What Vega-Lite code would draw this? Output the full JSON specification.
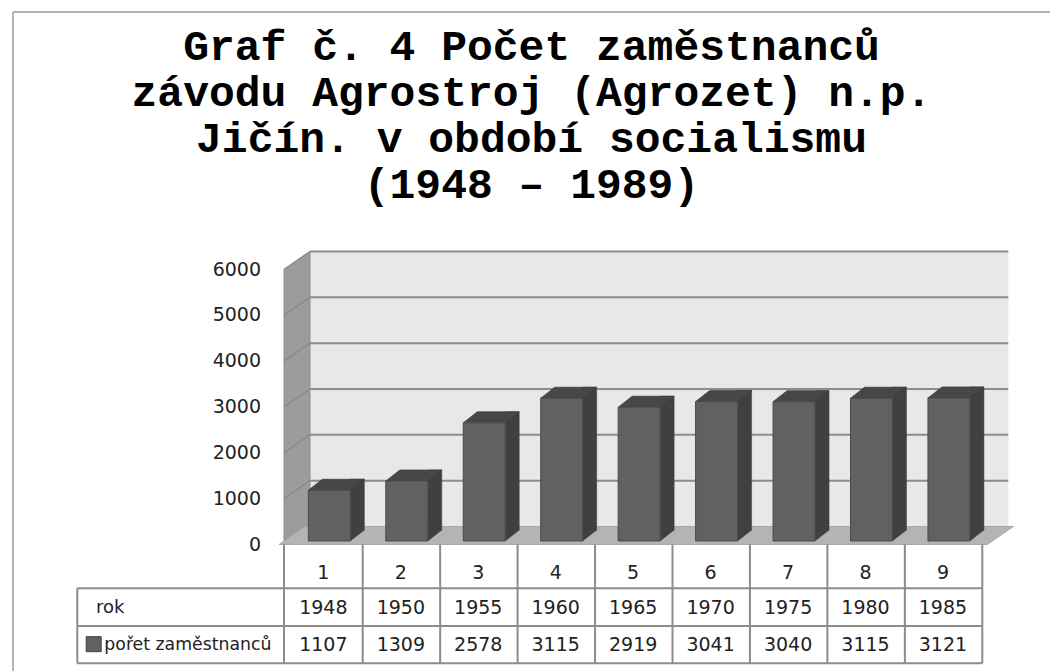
{
  "$schema": "https://vega.github.io/schema/vega-lite/v6.json",
  "width": 1047,
  "height": 659,
  "autosize": "none",
  "padding": {"left": 8, "top": 12, "right": 0, "bottom": 0},
  "background": "white",
  "config": {"view": {"stroke": null}},
  "title": {
    "text": ["Graf č. 4 Počet zaměstnanců", "závodu Agrostroj (Agrozet) n.p.", "Jičín. v období socialismu", "(1948 – 1989)"],
    "anchor": "middle",
    "frame": "group",
    "orient": "top",
    "offset": -230,
    "font": "'Courier New', 'Nimbus Mono PS', 'Nimbus Mono L', FreeMono, 'Liberation Mono', monospace",
    "fontSize": 43,
    "fontWeight": "bold",
    "color": "#000000",
    "lineHeight": 46,
    "baseline": "alphabetic"
  },
  "data": {"values": [
    {"i": 1, "rok": 1948, "count": 1107},
    {"i": 2, "rok": 1950, "count": 1309},
    {"i": 3, "rok": 1955, "count": 2578},
    {"i": 4, "rok": 1960, "count": 3115},
    {"i": 5, "rok": 1965, "count": 2919},
    {"i": 6, "rok": 1970, "count": 3041},
    {"i": 7, "rok": 1975, "count": 3040},
    {"i": 8, "rok": 1980, "count": 3115},
    {"i": 9, "rok": 1985, "count": 3121}
  ]},
  "datasets": {
    "grid": [{"v": 1000}, {"v": 2000}, {"v": 3000}, {"v": 4000}, {"v": 5000}, {"v": 6000}],
    "ticks": [{"v": 0}, {"v": 1000}, {"v": 2000}, {"v": 3000}, {"v": 4000}, {"v": 5000}, {"v": 6000}],
    "one": [{"k": 1}],
    "rowhead": [{"h": "rok"}],
    "serie": [{"h": "pořet zaměstnanců"}]
  },
  "layer": [
    {
      "data": {"name": "one"},
      "mark": {"type": "rule", "color": "#9a9a9a", "strokeWidth": 1.5, "xOffset": -310.35, "x2Offset": 107.05, "yOffset": -257.5},
      "encoding": {
        "x": {"datum": 1, "type": "quantitative", "scale": {"domain": [1, 9], "range": [310.35, 939.95], "nice": false, "zero": false}, "axis": null},
        "x2": {"datum": 9},
        "y": {"datum": 6000, "type": "quantitative", "scale": {"domain": [0, 6000], "range": [532.5, 257.5], "nice": false, "zero": false}, "axis": null}
      }
    },
    {
      "data": {"name": "one"},
      "mark": {"type": "rule", "color": "#9a9a9a", "strokeWidth": 1.5, "xOffset": -310.35, "yOffset": -257.5, "y2Offset": 126.5},
      "encoding": {
        "x": {"datum": 1, "type": "quantitative", "axis": null},
        "y": {"datum": 6000, "type": "quantitative", "axis": null},
        "y2": {"datum": 0}
      }
    },
    {
      "data": {"name": "one"},
      "mark": {"type": "rect", "color": "#e8e8e8", "xOffset": -13.35, "x2Offset": 65.35, "yOffset": -18, "y2Offset": -18},
      "encoding": {
        "x": {"datum": 1, "type": "quantitative", "axis": null},
        "x2": {"datum": 9},
        "y": {"datum": 6000, "type": "quantitative", "axis": null},
        "y2": {"datum": 0}
      }
    },
    {
      "data": {"name": "grid"},
      "mark": {"type": "rule", "color": "#8c8c8c", "strokeWidth": 2, "xOffset": -13.35, "x2Offset": 65.35, "yOffset": -18},
      "encoding": {
        "x": {"datum": 1, "type": "quantitative", "axis": null},
        "x2": {"datum": 9},
        "y": {"field": "v", "type": "quantitative", "axis": null}
      }
    },
    {
      "data": {"name": "one"},
      "mark": {"type": "point", "shape": "M-0.08874,1L-0.08874,-0.87713L0.08874,-1L0.08874,0.87713Z", "size": 85849, "filled": true, "opacity": 1, "fill": "#9c9c9c", "stroke": "#8e8e8e", "strokeWidth": 1, "xOffset": -26.35, "yOffset": -146.5},
      "encoding": {
        "x": {"datum": 1, "type": "quantitative", "axis": null},
        "y": {"datum": 0, "type": "quantitative", "axis": null}
      }
    },
    {
      "data": {"name": "grid"},
      "mark": {"type": "rule", "color": "#8a8a8a", "strokeWidth": 1.5, "xOffset": -39.35, "x2Offset": -13.35, "y2Offset": -18},
      "encoding": {
        "x": {"datum": 1, "type": "quantitative", "axis": null},
        "x2": {"datum": 1},
        "y": {"field": "v", "type": "quantitative", "axis": null},
        "y2": {"field": "v"}
      }
    },
    {
      "data": {"name": "ticks"},
      "mark": {"type": "text", "font": "DejaVu Sans", "fontSize": 19, "color": "#222222", "baseline": "middle", "align": "right", "xOffset": -62.35},
      "encoding": {
        "x": {"datum": 1, "type": "quantitative", "axis": null},
        "y": {"field": "v", "type": "quantitative", "axis": null},
        "text": {"field": "v", "type": "quantitative", "format": "d"}
      }
    },
    {
      "data": {"name": "one"},
      "mark": {"type": "point", "shape": "M-1,0.02451L0.92919,0.02451L1,-0.02451L-0.92919,-0.02451Z", "size": 539196, "filled": true, "opacity": 1, "fill": "#b4b4b4", "stroke": "#a8a8a8", "strokeWidth": 1, "xOffset": 13, "yOffset": -9},
      "encoding": {
        "x": {"datum": 5, "type": "quantitative", "axis": null},
        "y": {"datum": 0, "type": "quantitative", "axis": null}
      }
    },
    {
      "mark": {"type": "bar", "orient": "vertical", "width": 14, "color": "#404040", "stroke": "#404040", "strokeWidth": 0.5, "xOffset": 34, "yOffset": -14.5, "y2Offset": -14.5},
      "encoding": {
        "x": {"field": "i", "type": "quantitative", "axis": null},
        "y": {"field": "count", "type": "quantitative", "axis": null},
        "y2": {"datum": 0}
      }
    },
    {
      "mark": {"type": "point", "shape": "M-1,0.78571L-1,-0.78571L1,-0.78571Z", "size": 196, "filled": true, "opacity": 1, "fill": "#404040", "stroke": "#404040", "strokeWidth": 0.5, "xOffset": 34, "yOffset": -9},
      "encoding": {
        "x": {"field": "i", "type": "quantitative", "axis": null},
        "y": {"datum": 0, "type": "quantitative", "axis": null}
      }
    },
    {
      "mark": {"type": "point", "shape": "M-1,0.19643L0.5,0.19643L1,-0.19643L-0.5,-0.19643Z", "size": 3136, "filled": true, "opacity": 1, "fill": "#474747", "stroke": "#3c3c3c", "strokeWidth": 0.7, "xOffset": 13, "yOffset": -9},
      "encoding": {
        "x": {"field": "i", "type": "quantitative", "axis": null},
        "y": {"field": "count", "type": "quantitative", "axis": null}
      }
    },
    {
      "mark": {"type": "bar", "orient": "vertical", "width": 42, "color": "#616161", "stroke": "#4a4a4a", "strokeWidth": 1, "xOffset": 6, "yOffset": -3.5, "y2Offset": -3.5},
      "encoding": {
        "x": {"field": "i", "type": "quantitative", "axis": null},
        "y": {"field": "count", "type": "quantitative", "axis": null},
        "y2": {"datum": 0}
      }
    },
    {
      "mark": {"type": "rule", "color": "#8c8c8c", "strokeWidth": 2, "xOffset": 39.35, "y2Offset": 118.8},
      "encoding": {
        "x": {"field": "i", "type": "quantitative", "axis": null},
        "y": {"datum": 0, "type": "quantitative", "axis": null},
        "y2": {"datum": 0}
      }
    },
    {
      "data": {"name": "one"},
      "mark": {"type": "rule", "color": "#8c8c8c", "strokeWidth": 2, "xOffset": -39.35, "y2Offset": 118.8},
      "encoding": {
        "x": {"datum": 1, "type": "quantitative", "axis": null},
        "y": {"datum": 0, "type": "quantitative", "axis": null},
        "y2": {"datum": 0}
      }
    },
    {
      "data": {"name": "one"},
      "mark": {"type": "rule", "color": "#8c8c8c", "strokeWidth": 2, "xOffset": -246.05, "yOffset": 43.8, "y2Offset": 118.8},
      "encoding": {
        "x": {"datum": 1, "type": "quantitative", "axis": null},
        "y": {"datum": 0, "type": "quantitative", "axis": null},
        "y2": {"datum": 0}
      }
    },
    {
      "data": {"name": "one"},
      "mark": {"type": "rule", "color": "#8c8c8c", "strokeWidth": 2, "xOffset": -246.05, "x2Offset": 39.35, "yOffset": 43.8},
      "encoding": {
        "x": {"datum": 1, "type": "quantitative", "axis": null},
        "x2": {"datum": 9},
        "y": {"datum": 0, "type": "quantitative", "axis": null}
      }
    },
    {
      "data": {"name": "one"},
      "mark": {"type": "rule", "color": "#8c8c8c", "strokeWidth": 2, "xOffset": -246.05, "x2Offset": 39.35, "yOffset": 81.5},
      "encoding": {
        "x": {"datum": 1, "type": "quantitative", "axis": null},
        "x2": {"datum": 9},
        "y": {"datum": 0, "type": "quantitative", "axis": null}
      }
    },
    {
      "data": {"name": "one"},
      "mark": {"type": "rule", "color": "#8c8c8c", "strokeWidth": 2, "xOffset": -246.05, "x2Offset": 39.35, "yOffset": 118.8},
      "encoding": {
        "x": {"datum": 1, "type": "quantitative", "axis": null},
        "x2": {"datum": 9},
        "y": {"datum": 0, "type": "quantitative", "axis": null}
      }
    },
    {
      "mark": {"type": "text", "font": "DejaVu Sans", "fontSize": 19, "color": "#222222", "baseline": "middle", "align": "center", "yOffset": 28},
      "encoding": {
        "x": {"field": "i", "type": "quantitative", "axis": null},
        "y": {"datum": 0, "type": "quantitative", "axis": null},
        "text": {"field": "i", "type": "quantitative", "format": "d"}
      }
    },
    {
      "mark": {"type": "text", "font": "DejaVu Sans", "fontSize": 19, "color": "#222222", "baseline": "middle", "align": "center", "yOffset": 63},
      "encoding": {
        "x": {"field": "i", "type": "quantitative", "axis": null},
        "y": {"datum": 0, "type": "quantitative", "axis": null},
        "text": {"field": "rok", "type": "quantitative", "format": "d"}
      }
    },
    {
      "mark": {"type": "text", "font": "DejaVu Sans", "fontSize": 19, "color": "#222222", "baseline": "middle", "align": "center", "yOffset": 100},
      "encoding": {
        "x": {"field": "i", "type": "quantitative", "axis": null},
        "y": {"datum": 0, "type": "quantitative", "axis": null},
        "text": {"field": "count", "type": "quantitative", "format": "d"}
      }
    },
    {
      "data": {"name": "rowhead"},
      "mark": {"type": "text", "font": "DejaVu Sans", "fontSize": 18, "color": "#222222", "baseline": "middle", "align": "left", "xOffset": -227.35, "yOffset": 63},
      "encoding": {
        "x": {"datum": 1, "type": "quantitative", "axis": null},
        "y": {"datum": 0, "type": "quantitative", "axis": null},
        "text": {"field": "h", "type": "nominal"}
      }
    },
    {
      "data": {"name": "serie"},
      "mark": {"type": "text", "font": "DejaVu Sans", "fontSize": 17.3, "color": "#222222", "baseline": "middle", "align": "left", "xOffset": -219, "yOffset": 100},
      "encoding": {
        "x": {"datum": 1, "type": "quantitative", "axis": null},
        "y": {"datum": 0, "type": "quantitative", "axis": null},
        "text": {"field": "h", "type": "nominal"}
      }
    },
    {
      "data": {"name": "serie"},
      "mark": {"type": "point", "shape": "square", "size": 225, "filled": true, "opacity": 1, "fill": "#616161", "stroke": "#404040", "strokeWidth": 1, "xOffset": -229.65, "yOffset": 99.7},
      "encoding": {
        "x": {"datum": 1, "type": "quantitative", "axis": null},
        "y": {"datum": 0, "type": "quantitative", "axis": null}
      }
    }
  ]
}
